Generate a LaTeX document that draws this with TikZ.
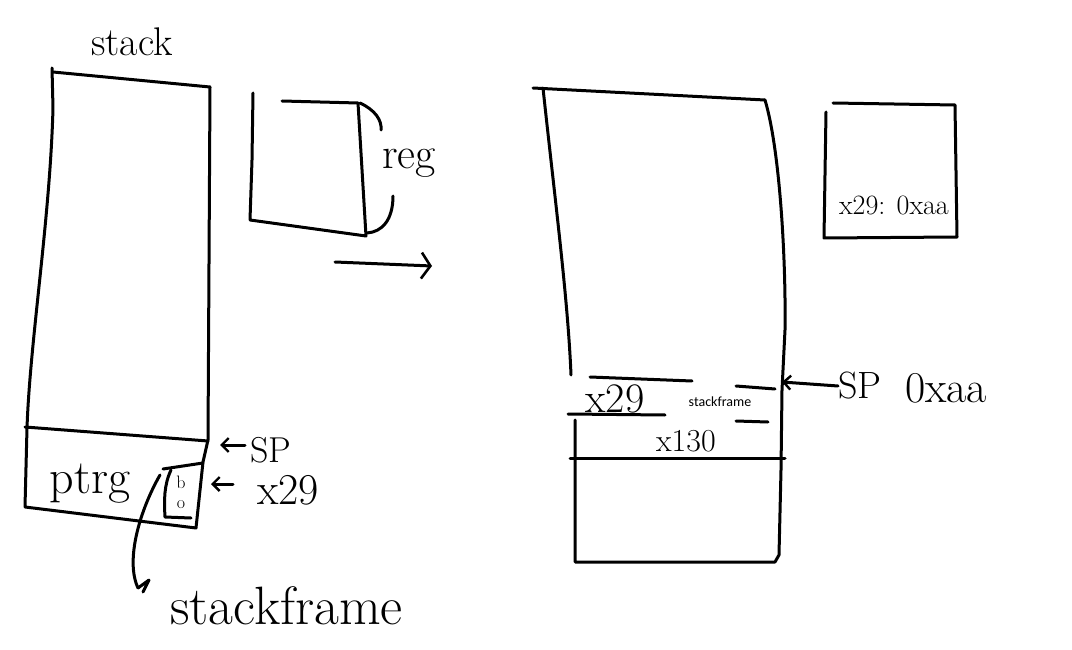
\documentclass[tikz,border=0pt]{standalone}
\usepackage{fontspec}
\newfontfamily\smallsans{Carlito}
\usetikzlibrary{arrows.meta}
\tikzset{
  ink/.style={draw=black, line width=3pt, line cap=round, line join=round},
  hand/.style={inner sep=0pt, font=\fontsize{#1}{#1}\selectfont},
  hand/.default=32,
  barb/.style={-{Straight Barb[length=7pt,width=14pt,line width=2.4pt]}},
  bigbarb/.style={-{Straight Barb[length=9pt,width=26pt,line width=2.6pt]}}
}
\begin{document}
\begin{tikzpicture}[x=1pt,y=-1pt]
\useasboundingbox[fill=white] (0,0) rectangle (1072,650);

% ---------- left stack ----------
\node[hand=40] (stacklbl) at (132,42) {stack};
\draw[ink] (52,68) -- (53,108) .. controls (50,220) and (30,340) .. (27,428) -- (25,507) -- (196,528) -- (203,462) -- (208,440) -- (210,87);
\draw[ink] (53,72) -- (210,87);
\draw[ink] (25,427) -- (208,441);
\node[hand=48] (ptrg) at (90,484) {ptrg};
% inner box
\draw[ink] (163,469) -- (203,463);
\draw[ink] (171,470) .. controls (164,485) and (164,500) .. (165,517) -- (191,518);
\node[hand=18] (bb) at (181,482) {b};
\node[hand=18] (oo) at (181,505) {o};
% SP arrow
\node[hand=36, anchor=west] (spL) at (250,450) {SP};
\coordinate (spLtip) at (220,445);
\draw[ink,barb] ([xshift=-5pt,yshift=5pt]spL.west) -- (spLtip);
% x29 arrow
\node[hand=44, anchor=west] (x29L) at (257,490) {x29};
\coordinate (x29Ltip) at (211,484);
\draw[ink,barb] ([xshift=-24pt,yshift=6pt]x29L.west) -- (x29Ltip);
% stackframe pointer
\node[hand=54, anchor=west] (sfL) at (170,606) {stackframe};
\coordinate (sfstart) at (160,475);
\draw[ink] (sfstart) .. controls (140,510) and (125,560) .. (138,588);
\draw[ink] (138,588) -- (149,580) -- (143,592);

% ---------- register ----------
\draw[ink] (253,93) -- (252,160) -- (250,220) -- (366,236) -- (358,103) -- (282,101);
\draw[ink] (360,103) .. controls (375,110) and (382,120) .. (381,130);
\draw[ink] (393,196) .. controls (393,220) and (382,232) .. (367,233);
\node[hand=44] (reglbl) at (409,163) {reg};

% ---------- big arrow ----------
\coordinate (arrA) at (335,262);
\coordinate (arrB) at (432,266);
\draw[ink,bigbarb] (arrA) -- (arrB);

% ---------- right stack ----------
\draw[ink] (533,88) -- (765,100);
\draw[ink] (543,88) .. controls (555,200) and (568,300) .. (571,375);
\draw[ink] (765,100) .. controls (780,150) and (786,260) .. (785,330) -- (782,390) -- (781,470) -- (779,555) -- (775,562) -- (575,562) -- (575,420);
\draw[ink] (590,377) -- (692,381);
\draw[ink] (736,386) -- (775,389);
\draw[ink] (568,414) -- (665,415);
\draw[ink] (736,421) -- (768,422);
\draw[ink] (570,458) -- (785,458);
\node[hand=42] (x29R) at (615,399) {x29};
\node[inner sep=0pt, font=\smallsans\fontsize{14}{14}\selectfont] (sfR) at (720,402) {stackframe};
\node[hand=32] (x30R) at (686,441) {x130};
\node[hand=38, anchor=west] (spR) at (838,386) {SP};
\node[hand=44, anchor=west] (addrR) at (905,388) {0xaa};
\coordinate (spRtip) at (782,382);
\draw[ink,barb] (spR.west) -- (spRtip);

% ---------- right register ----------
\draw[ink] (833,103) -- (955,105) -- (957,237) -- (824,238) -- (826,112);
\node[hand=28] (regval) at (894,205) {x29: 0xaa};
\end{tikzpicture}
\end{document}
